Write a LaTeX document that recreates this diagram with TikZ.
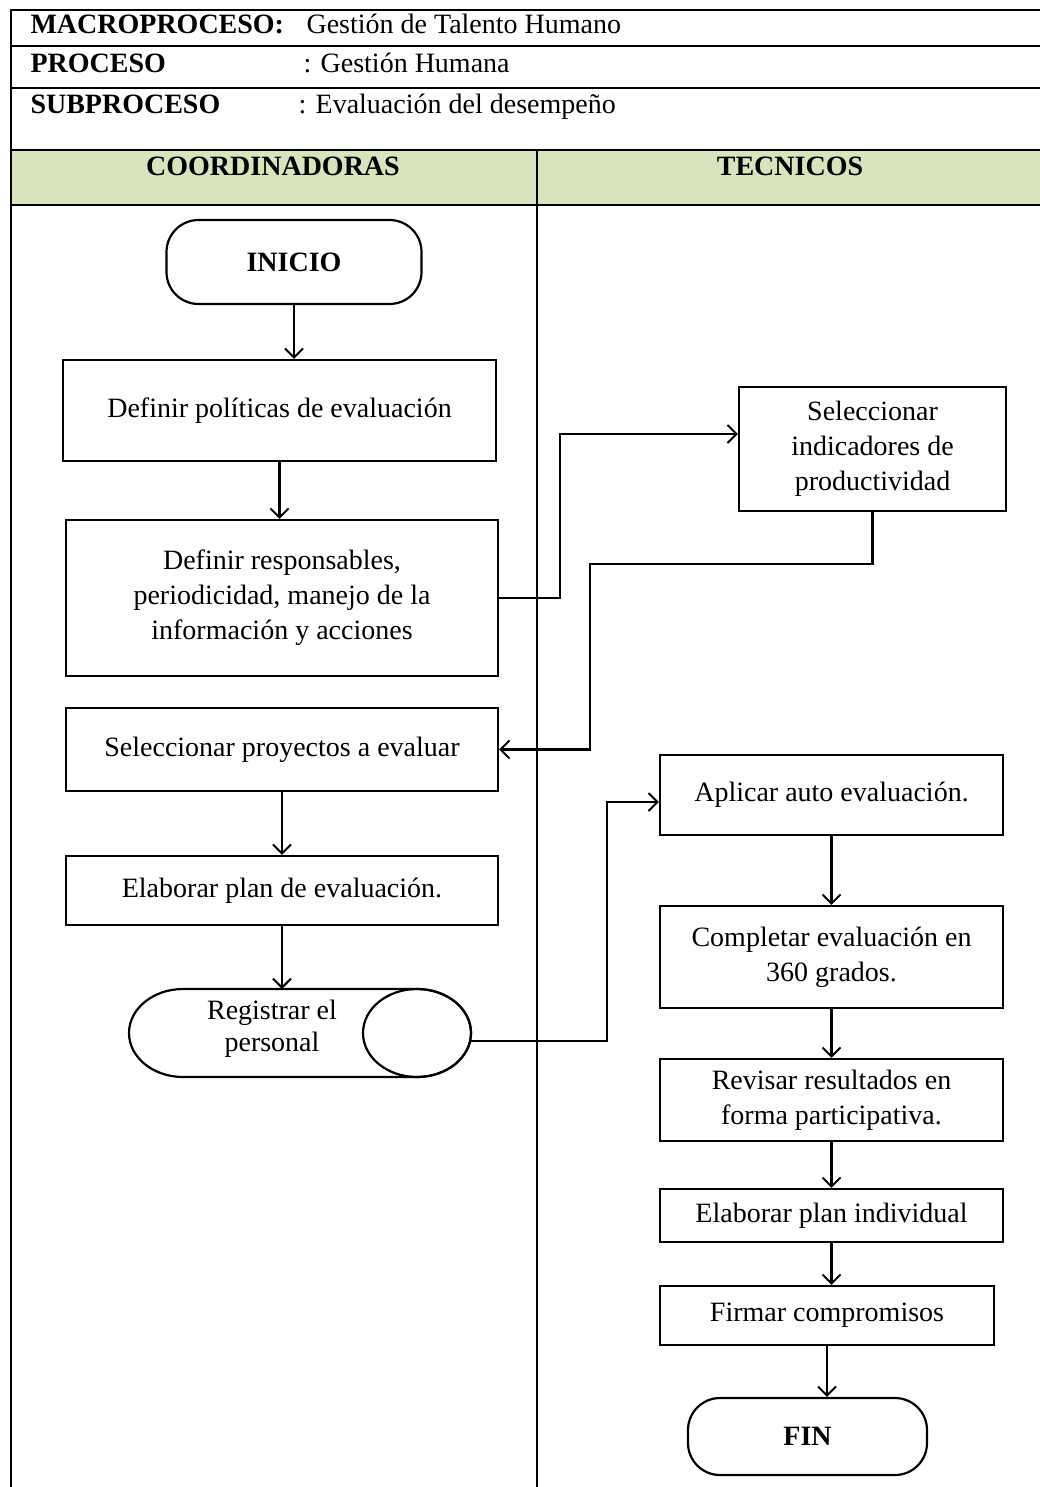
\documentclass[tikz,border=0pt]{standalone}
\usepackage{fontspec}
\setmainfont{Liberation Serif}
\definecolor{hdGreen}{HTML}{D7E4BD}
\usetikzlibrary{arrows.meta,positioning,calc}

\begin{document}
\begin{tikzpicture}[x=1pt,y=-1pt,
  font=\fontsize{28}{35}\selectfont,
  frame/.style={line width=2.6pt},
  box/.style={draw,line width=2.2pt,inner sep=0pt,align=center},
  term/.style={box,rounded corners=32pt,font=\fontsize{28}{34}\selectfont\bfseries},
  flow/.style={line width=2.2pt,-{Straight Barb[length=9pt,width=18pt,line width=2pt]}},
  hd/.style={anchor=base west,font=\fontsize{28}{34}\selectfont\bfseries},
  hdval/.style={anchor=base west}]
\useasboundingbox (0,0) rectangle (1040,1487);
% header table
\fill[hdGreen] (11,150) rectangle (1040,205);
\draw[frame] (11,1487) -- (11,10) -- (1040,10);
\foreach \y in {46,88,150,205} {\draw[frame] (11,\y) -- (1040,\y);}
\draw[frame] (537,150) -- (537,1487);
\node[hd]    (macro)    at (27,34)   {MACROPROCESO:};
\node[hdval] (macroval) at (303,34)  {Gestión de Talento Humano};
\node[hd]    (proc)     at (27,73)   {PROCESO};
\node[hdval] (procval)  at (300,73)  {: Gestión Humana};
\node[hd]    (subp)     at (27,114)  {SUBPROCESO};
\node[hdval] (subpval)  at (295,114) {: Evaluación del desempeño};
\node[hd,anchor=base] (coord) at (273,176) {COORDINADORAS};
\node[hd,anchor=base] (tecn)  at (790,176) {TECNICOS};
% coordinadoras
\node[term,minimum width=255pt,minimum height=84pt] (inicio) at (294,262) {INICIO};
\node[box,minimum width=433pt,minimum height=101pt] (polit) at (279.5,410.5)
  {Definir políticas de evaluación};
\node[box,minimum width=432pt,minimum height=156pt] (resp) at (282,598)
  {Definir responsables,\\periodicidad, manejo de la\\información y acciones};
\node[box,minimum width=432pt,minimum height=83pt] (proy) at (282,749.5)
  {Seleccionar proyectos a evaluar};
\node[box,minimum width=432pt,minimum height=69pt] (plan) at (282,890.5)
  {Elaborar plan de evaluación.};
% stored data, lying drum
\draw[line width=2.2pt] (183,989) -- (417,989)
  arc[start angle=-90,end angle=90,x radius=54,y radius=44] -- (183,1077)
  arc[start angle=90,end angle=270,x radius=54,y radius=44];
\draw[line width=2.2pt] (417,1033) ellipse[x radius=54,y radius=44];
\node[align=center,font=\fontsize{28}{32}\selectfont] (reg) at (272,1029)
  {Registrar el\\personal};
\coordinate (regtop) at (282,989);
\coordinate (regout) at (471,1041);
% tecnicos
\node[box,minimum width=267pt,minimum height=124pt] (indic) at (872.5,449)
  {Seleccionar\\indicadores de\\productividad};
\node[box,minimum width=343pt,minimum height=80pt] (auto) at (831.5,795)
  {Aplicar auto evaluación.};
\node[box,minimum width=343pt,minimum height=102pt] (compl) at (831.5,957)
  {Completar evaluación en\\360 grados.};
\node[box,minimum width=343pt,minimum height=82pt] (revis) at (831.5,1100)
  {Revisar resultados en\\forma participativa.};
\node[box,minimum width=343pt,minimum height=53pt] (indiv) at (831.5,1215.5)
  {Elaborar plan individual};
\node[box,minimum width=334pt,minimum height=59pt] (firma) at (827,1315.5)
  {Firmar compromisos};
\node[term,minimum width=239pt,minimum height=77pt] (fin) at (807.5,1436.5) {FIN};
% straight flow
\draw[flow] (inicio.south) -- (inicio.south |- polit.north);
\draw[flow] (polit.south)  -- (polit.south |- resp.north);
\draw[flow] (proy.south)   -- (proy.south |- plan.north);
\draw[flow] (plan.south)   -- (regtop);
\draw[flow] (auto.south)   -- (compl.north);
\draw[flow] (compl.south)  -- (revis.north);
\draw[flow] (revis.south)  -- (indiv.north);
\draw[flow] (indiv.south)  -- (indiv.south |- firma.north);
\draw[flow] (firma.south)  -- (firma.south |- fin.north);
% lane crossings
\coordinate (j1) at (560,434);
\coordinate (j2) at (590,564);
\coordinate (j3) at (607,802);
\draw[flow] (resp.east) -| (j1) -- (indic.west |- j1);
\draw[flow] (indic.south) |- (j2) |- (proy.east);
\draw[flow] (regout) -| (j3) -- (auto.west |- j3);
\end{tikzpicture}
\end{document}
